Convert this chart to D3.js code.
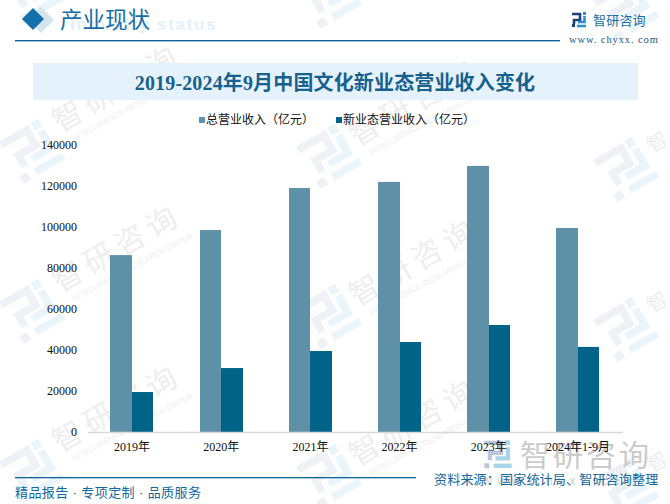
<!DOCTYPE html>
<html><head><meta charset="utf-8">
<script src="https://cdn.jsdelivr.net/npm/d3@7"></script>
<style>html,body{margin:0;padding:0;background:#fff}svg{display:block}</style>
</head><body><svg id="c" width="670" height="504"></svg>
<script>
const categories=["2019年","2020年","2021年","2022年","2023年","2024年1-9月"];
const totalRevenue=[86300,98500,119000,122000,129800,99500];
const newRevenue=[19500,31200,39500,43900,52200,41500];
const seriesNames=["总营业收入（亿元）","新业态营业收入（亿元）"];
const colors=["#5e90a8","#006387"];
const yTicks=[0,20000,40000,60000,80000,100000,120000,140000];
const titleText="2019-2024年9月中国文化新业态营业收入变化";
const CJK='"Noto Sans CJK SC"';
const svg=d3.select("#c");

// watermark layer
const wm=svg.append("g");
function logo(g,x,y,s,rot,dark,light){
  const m=g.append("g").attr("transform",`translate(${x},${y}) rotate(${rot}) scale(${s}) translate(-22,-22)`);
  const d=m.append("g").attr("fill","none").attr("stroke",dark).attr("stroke-width",7);
  d.append("path").attr("d","M0,4H27V20H9V32");
  m.append("rect").attr("x",0).attr("y",37).attr("width",8).attr("height",8).attr("fill",dark);
  m.append("rect").attr("x",33).attr("y",0).attr("width",8).attr("height",8).attr("fill",light);
  const l=m.append("g").attr("fill","none").attr("stroke",light).attr("stroke-width",7);
  l.append("path").attr("d","M38,11V29H18");
  l.append("path").attr("d","M15,41H44");
}
[[32,-10],[32,150],[32,310],[32,470],[329,-5],[329,155],[329,315],[329,475],[626,8],[626,168],[626,328],[626,488]]
 .forEach(([x,y])=>logo(wm,x,y,1.1,-30,"#eef1f6","#eaf5fb"));
[[60,133],[60,293],[60,453],[357,147],[357,307],[357,467]].forEach(([x,y])=>{
  wm.append("text").attr("transform",`translate(${x},${y}) rotate(-30)`).attr("font-family",CJK).attr("font-size",30).attr("letter-spacing",6).attr("fill","#eeeeee").text("智研咨询");
  wm.append("text").attr("transform",`translate(${x+14},${y+8}) rotate(-28)`).attr("font-family","Liberation Sans").attr("font-size",8).attr("fill","#eeeeee").text("INTELLIGENCE RESEARCH GROUP");
});
[[652,153],[652,313],[652,473]].forEach(([x,y])=>{
  wm.append("text").attr("transform",`translate(${x},${y}) rotate(-30)`).attr("font-family",CJK).attr("font-size",20).attr("fill","#eeeeee").text("智");
});

// header
svg.append("path").attr("d","M41,7L54,20L41,33L28,20Z").attr("fill","#d4e5ef");
svg.append("path").attr("d","M33,8L44,19L33,30L22,19Z").attr("fill","#1370aa");
svg.append("text").attr("x",70).attr("y",30).attr("font-family","Liberation Sans").attr("font-weight","bold").attr("font-size",17).attr("letter-spacing",1.7).attr("fill","#e4f1fa").text("Industry status");
svg.append("text").attr("x",60).attr("y",28).attr("font-family",CJK).attr("font-size",22.5).attr("fill","#1a6ea6").text("产业现状");
svg.append("rect").attr("x",15).attr("y",40).attr("width",545).attr("height",1.4).attr("fill","#0d6396");
svg.append("rect").attr("x",33).attr("y",63).attr("width",605).attr("height",37).attr("fill","#e5f2fb");
svg.append("text").attr("x",335).attr("y",90).attr("text-anchor","middle").attr("font-family",`"Liberation Serif",${CJK}`).attr("font-weight","bold").attr("font-size",20).attr("letter-spacing",0.15).attr("fill","#17618f").text(titleText);

// brand logo
const bl=svg.append("g").attr("transform","translate(572,12)");
bl.append("g").attr("fill","none").attr("stroke","#1d3f7a").attr("stroke-width",2.6).append("path").attr("d","M0,2H8V8H2V12");
bl.append("rect").attr("x",0).attr("y",12).attr("width",3).attr("height",3).attr("fill","#1d3f7a");
bl.append("rect").attr("x",11).attr("y",0).attr("width",3).attr("height",3).attr("fill","#2a8fd0");
bl.append("path").attr("d","M12.5,4V10H6M5,14H14").attr("fill","none").attr("stroke","#2a8fd0").attr("stroke-width",2.6);
svg.append("text").attr("x",593).attr("y",25).attr("font-family",CJK).attr("font-size",13).attr("letter-spacing",0.2).attr("fill","#1a6ea6").text("智研咨询");
svg.append("text").attr("x",569).attr("y",43).attr("font-family","Liberation Serif").attr("font-size",10.5).attr("letter-spacing",0.9).attr("fill","#22587f").text("www. chyxx. com");

// scales
const x=d3.scaleBand().domain(categories).range([87.5,622.5]);
const y=d3.scaleLinear().domain([0,140000]).range([432,145]);
const mid=d=>x(d)+x.bandwidth()/2;
const bL=d=>Math.round(mid(d)-21.7), bM=d=>Math.round(mid(d)), bR=d=>Math.round(mid(d)+21.4);

// legend
[[199,seriesNames[0],colors[0]],[336,seriesNames[1],colors[1]]].forEach(([lx,t,c])=>{
  svg.append("rect").attr("x",lx).attr("y",117).attr("width",6).attr("height",6).attr("fill",c);
  svg.append("text").attr("x",lx+7).attr("y",124).attr("font-family",CJK).attr("font-size",12).attr("fill","#111").text(t);
});

// bottom watermark (below bars, above the faint tiles)
const lgm=svg.append("g");
logo(lgm,498,454,0.62,0,"#b9c6de","#a9d3ea");
svg.append("text").attr("x",520).attr("y",466).attr("font-family",CJK).attr("font-size",30).attr("letter-spacing",3).attr("fill","#cbcbcb").text("智研咨询");
svg.append("text").attr("x",483).attr("y",485).attr("font-family","Liberation Sans").attr("font-size",12).attr("letter-spacing",5.6).attr("fill","#d0d0d0").text("www.chyxx.com");

// bars
svg.append("g").selectAll("rect").data(categories).join("rect")
 .attr("x",bL).attr("width",d=>bM(d)-bL(d))
 .attr("y",(d,i)=>y(totalRevenue[i])).attr("height",(d,i)=>y(0)-y(totalRevenue[i])).attr("fill",colors[0]);
svg.append("g").selectAll("rect").data(categories).join("rect")
 .attr("x",bM).attr("width",d=>bR(d)-bM(d))
 .attr("y",(d,i)=>y(newRevenue[i])).attr("height",(d,i)=>y(0)-y(newRevenue[i])).attr("fill",colors[1]);

// axes
const font=`"Liberation Serif",${CJK}`;
const ax=svg.append("g").attr("transform","translate(0,432)").call(d3.axisBottom(x).tickSize(0).tickPadding(10));
ax.select(".domain").attr("stroke","#d9d9d9").attr("stroke-width",1.4);
ax.selectAll("text").attr("font-family",font).attr("font-size",12).attr("fill","#111");
const ay=svg.append("g").attr("transform","translate(88,0)").call(d3.axisLeft(y).tickValues(yTicks).tickFormat(d=>String(d)).tickSize(0).tickPadding(11));
ay.select(".domain").remove();
ay.selectAll("text").attr("font-family",font).attr("font-size",12).attr("fill","#111");

// footer
svg.append("rect").attr("x",15).attr("y",477).attr("width",401).attr("height",1.3).attr("fill","#0d6396");
svg.append("text").attr("x",15).attr("y",497).attr("font-family",`"Liberation Sans",${CJK}`).attr("font-size",13).attr("letter-spacing",0.4).attr("fill","#13689c").text("精品报告 · 专项定制 · 品质服务");
svg.append("text").attr("x",434).attr("y",484).attr("font-family",CJK).attr("font-size",13).attr("letter-spacing",0.2).attr("fill","#13689c").text("资料来源：国家统计局、智研咨询整理");
</script></body></html>
